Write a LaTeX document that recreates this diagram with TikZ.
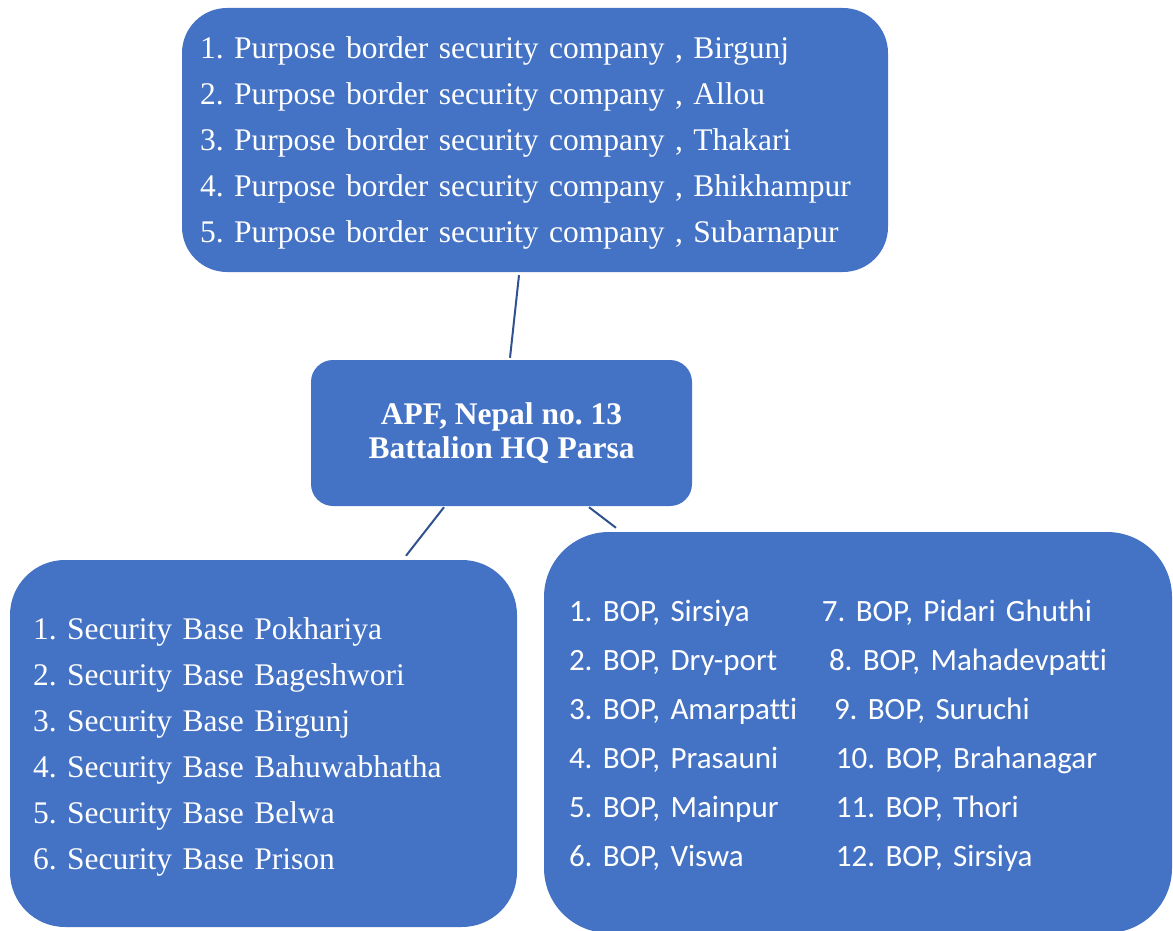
\documentclass[tikz,border=0pt]{standalone}
\usepackage{fontspec}
\setmainfont{Liberation Serif}
\newfontfamily\calfont[Ligatures={NoCommon,NoRare}]{Carlito}
\definecolor{boxblue}{HTML}{4472C4}
\definecolor{linkblue}{HTML}{2F528F}
\frenchspacing
\tikzset{
  orgbox/.style={draw=none, fill=boxblue, text=white, rectangle, anchor=center},
  listbox/.style={orgbox, align=left, font=\fontsize{31.5}{46}\selectfont},
  link/.style={draw=linkblue, line width=2pt}
}
\begin{document}
\begin{tikzpicture}[x=1pt,y=-1pt]
\useasboundingbox (0,0) rectangle (1173,931);
\node[listbox, rounded corners=45pt, minimum width=706pt, minimum height=264pt,
      inner xsep=18pt, text width=670pt] (top) at (535,140)
 {\rule{0pt}{28pt}1. Purpose border security company , Birgunj\\
  2. Purpose border security company , Allou\\
  3. Purpose border security company , Thakari\\
  4. Purpose border security company , Bhikhampur\\
  5. Purpose border security company , Subarnapur};
\node[orgbox, rounded corners=22pt, minimum width=381pt, minimum height=146pt,
      align=center, font=\bfseries\fontsize{31.5}{34}\selectfont] (mid) at (501.5,433)
 {APF, Nepal no. 13\\Battalion HQ Parsa};
\node[listbox, rounded corners=55pt, minimum width=507pt, minimum height=367pt,
      inner xsep=23pt, text width=461pt] (left) at (263.5,743.5)
 {\rule{0pt}{28pt}1. Security Base Pokhariya\\
  2. Security Base Bageshwori\\
  3. Security Base Birgunj\\
  4. Security Base Bahuwabhatha\\
  5. Security Base Belwa\\
  6. Security Base Prison};
\node[orgbox, rounded corners=65pt, minimum width=628pt, minimum height=401pt,
      inner xsep=25pt, text width=578pt, align=left,
      font=\calfont\fontsize{31}{49}\selectfont] (right) at (858,732.5)
 {\rule{0pt}{27pt}\makebox[253pt][l]{1. BOP, Sirsiya}7. BOP, Pidari Ghuthi\\
  \makebox[260pt][l]{2. BOP, Dry-port}8. BOP, Mahadevpatti\\
  \makebox[265pt][l]{3. BOP, Amarpatti}9. BOP, Suruchi\\
  \makebox[267pt][l]{4. BOP, Prasauni}10. BOP, Brahanagar\\
  \makebox[267pt][l]{5. BOP, Mainpur}11. BOP, Thori\\
  \makebox[267pt][l]{6. BOP, Viswa}12. BOP, Sirsiya};
\draw[link] ([xshift=-16pt,yshift=-3pt]top.south) -- ([xshift=8.5pt,yshift=2pt]mid.north);
\draw[link] ([xshift=-57.5pt,yshift=-1pt]mid.south) -- ([xshift=142.5pt,yshift=4pt]left.north);
\draw[link] ([xshift=87.5pt,yshift=-1pt]mid.south) -- ([xshift=-242pt,yshift=4pt]right.north);
\end{tikzpicture}
\end{document}
